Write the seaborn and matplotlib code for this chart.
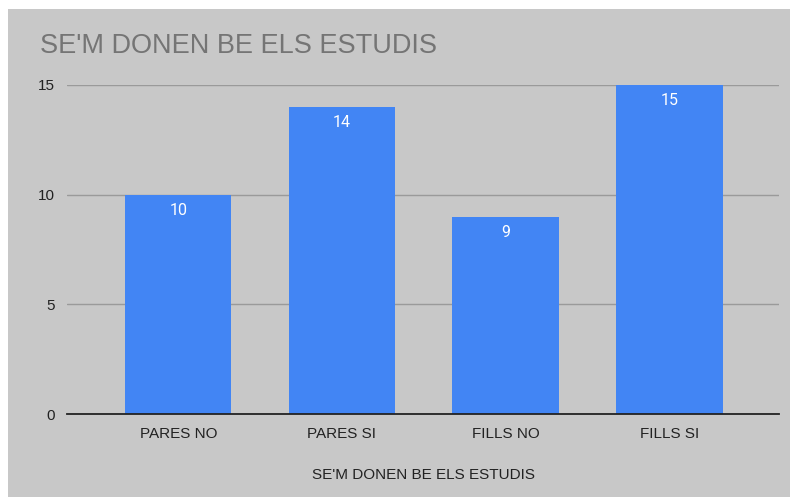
import matplotlib
matplotlib.use("Agg")
import matplotlib.pyplot as plt
import seaborn as sns
import pandas as pd
from matplotlib.patches import Rectangle

# data
categories = ["PARES NO", "PARES SI", "FILLS NO", "FILLS SI"]
values = [10, 14, 9, 15]
y_ticks = [0, 5, 10, 15]
title = "SE'M DONEN BE ELS ESTUDIS"

df = pd.DataFrame({"cat": categories, "val": values})

sns.set_theme(style="white")
plt.rcParams["font.family"] = ["Liberation Sans", "DejaVu Sans"]

bg = "#c8c8c8"
fig = plt.figure(figsize=(7.93, 4.98), dpi=100, facecolor="white")
# grey panel with thin white margin
fig.patches.append(Rectangle((8 / 793, 1 / 498), 782 / 793, 488 / 498,
                             transform=fig.transFigure, facecolor=bg,
                             edgecolor="none", zorder=-10))

ax = fig.add_axes([67 / 793, 1 - 414 / 498, 712 / 793, 329 / 498])
ax.set_facecolor(bg)

sns.barplot(data=df, x="cat", y="val", color="#4285f4", saturation=1,
            width=0.65, linewidth=0, edgecolor="none", ax=ax, zorder=3)

ax.set_ylim(0, 15)
ax.set_xlim(-0.68, 3.67)
ax.set_yticks(y_ticks)
ax.yaxis.grid(True, color="#9a9a9a", linewidth=1, zorder=0)
ax.set_axisbelow(True)
for s in ["top", "right", "left"]:
    ax.spines[s].set_visible(False)
ax.spines["bottom"].set_color("#222222")
ax.spines["bottom"].set_linewidth(1.3)
ax.spines["bottom"].set_zorder(4)
ax.tick_params(axis="both", length=0, labelsize=11, colors="#222222")
ax.tick_params(axis="x", pad=9)
ax.tick_params(axis="y", pad=9)

ax.set_xlabel(title, fontsize=11, color="#222222", labelpad=20)
ax.set_ylabel("")

for bar, v in zip(ax.patches, values):
    ax.annotate(str(v), (bar.get_x() + bar.get_width() / 2, bar.get_height()),
                xytext=(0, -6), textcoords="offset points", ha="center", va="top",
                color="white", fontsize=11.5, family=["Roboto", "DejaVu Sans"])

fig.text(40 / 793, 1 - 46 / 498, title, fontsize=19.5, color="#757575",
         ha="left", va="center")

fig.savefig("out.png", dpi=100, facecolor=fig.get_facecolor())
